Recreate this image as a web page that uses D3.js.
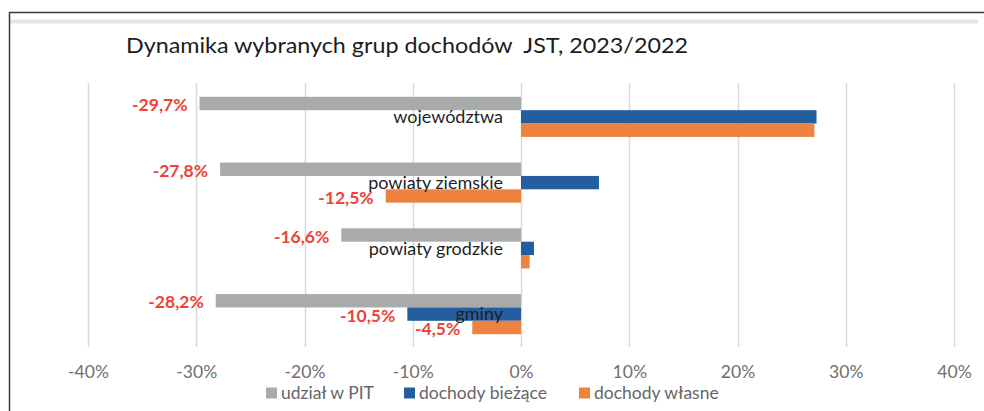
<!DOCTYPE html>
<html>
<head>
<meta charset="utf-8">
<script src="https://cdn.jsdelivr.net/npm/d3@7"></script>
<style>
  html, body { margin: 0; padding: 0; background: #fff; }
  svg { display: block; font-family: Lato, "Open Sans", sans-serif; }
  .pre { white-space: pre; }
</style>
</head>
<body>
<svg id="chart" width="984" height="411"></svg>
<script>
const title = "Dynamika wybranych grup dochodów  JST, 2023/2022";
const categories = ["województwa", "powiaty ziemskie", "powiaty grodzkie", "gminy"];
const seriesNames = ["udział w PIT", "dochody bieżące", "dochody własne"];
const udzialPIT = [-29.7, -27.8, -16.6, -28.2];
const dochodyBiezace = [27.3, 7.2, 1.2, -10.5];
const dochodyWlasne = [27.1, -12.5, 0.8, -4.5];
const seriesColors = ["#A8AAAC", "#255E9F", "#EE8340"];
const tickValues = [-40, -30, -20, -10, 0, 10, 20, 30, 40];
const tickLabels = ["-40%", "-30%", "-20%", "-10%", "0%", "10%", "20%", "30%", "40%"];

const seriesValues = [udzialPIT, dochodyBiezace, dochodyWlasne];
const data = [];
categories.forEach((c, i) => {
  seriesNames.forEach((s, j) => data.push({cat: c, series: s, value: seriesValues[j][i], color: seriesColors[j]}));
});

const svg = d3.select("#chart");

// frame
svg.append("rect").attr("x", 10).attr("y", 19.5).attr("width", 968).attr("height", 4).attr("fill", "#e6e6e6");
svg.append("line").attr("x1", 9.5).attr("x2", 984).attr("y1", 12.5).attr("y2", 12.5).attr("stroke", "#3a3a3a").attr("stroke-width", 1.5);
svg.append("line").attr("x1", 9.5).attr("x2", 9.5).attr("y1", 12).attr("y2", 411).attr("stroke", "#3a3a3a").attr("stroke-width", 1.5);

// title
svg.append("text").attr("class", "pre").attr("x", 126).attr("y", 53).attr("font-size", 22).attr("fill", "#1c1c1c")
  .attr("textLength", 562).attr("lengthAdjust", "spacingAndGlyphs").text(title);

const x = d3.scaleLinear().domain([-40, 40]).range([88, 954]);
const y = d3.scaleBand().domain(categories).range([84, 347]).paddingInner(0.39).paddingOuter(0.195);
const ySub = d3.scaleBand().domain(seriesNames).range([0, y.bandwidth()]);

// gridlines
svg.append("g").selectAll("line").data(tickValues).join("line")
  .attr("x1", d => Math.round(x(d)) + 0.5).attr("x2", d => Math.round(x(d)) + 0.5)
  .attr("y1", 83).attr("y2", 347)
  .attr("stroke", "#d9d9d9").attr("stroke-width", 1.5);

// x axis labels
const xAxis = d3.axisBottom(x).tickValues(tickValues).tickSize(0).tickPadding(0)
  .tickFormat((d, i) => tickLabels[i]);
const gx = svg.append("g").attr("transform", "translate(0,366)").call(xAxis);
gx.select(".domain").remove();
gx.selectAll("text").attr("font-size", 17.5).attr("fill", "#6f6f6f").attr("font-family", "Lato, sans-serif");

// bars
svg.append("g").selectAll("rect").data(data).join("rect")
  .attr("x", d => x(Math.min(0, d.value)))
  .attr("width", d => Math.abs(x(d.value) - x(0)))
  .attr("y", d => y(d.cat) + ySub(d.series))
  .attr("height", ySub.bandwidth())
  .attr("fill", d => d.color);

// category labels
svg.append("g").selectAll("text").data(categories).join("text")
  .attr("x", x(0) - 18)
  .attr("y", d => y(d) + y.bandwidth() / 2)
  .attr("dy", "0.35em")
  .attr("text-anchor", "end")
  .attr("font-size", 18)
  .attr("fill", "#1f1f1f")
  .text(d => d);

// value labels (negative values)
const fmt = v => v.toFixed(1).replace(".", ",") + "%";
svg.append("g").selectAll("text").data(data.filter(d => d.value < 0)).join("text")
  .attr("x", d => x(d.value) - 12)
  .attr("y", d => y(d.cat) + ySub(d.series) + ySub.bandwidth() / 2 + 1.5)
  .attr("dy", "0.35em")
  .attr("text-anchor", "end")
  .attr("font-size", 17.5)
  .attr("font-weight", "bold")
  .attr("fill", "#EE4236")
  .text(d => fmt(d.value));

// legend
const legendX = [266, 404, 579];
const lg = svg.append("g").selectAll("g").data(seriesNames).join("g")
  .attr("transform", (d, i) => `translate(${legendX[i]},393)`);
lg.append("rect").attr("x", 0).attr("y", -5.5).attr("width", 11).attr("height", 11)
  .attr("fill", (d, i) => seriesColors[i]);
lg.append("text").attr("x", 15).attr("dy", "0.35em").attr("font-size", 17.5).attr("fill", "#666")
  .text(d => d);
</script>
</body>
</html>
